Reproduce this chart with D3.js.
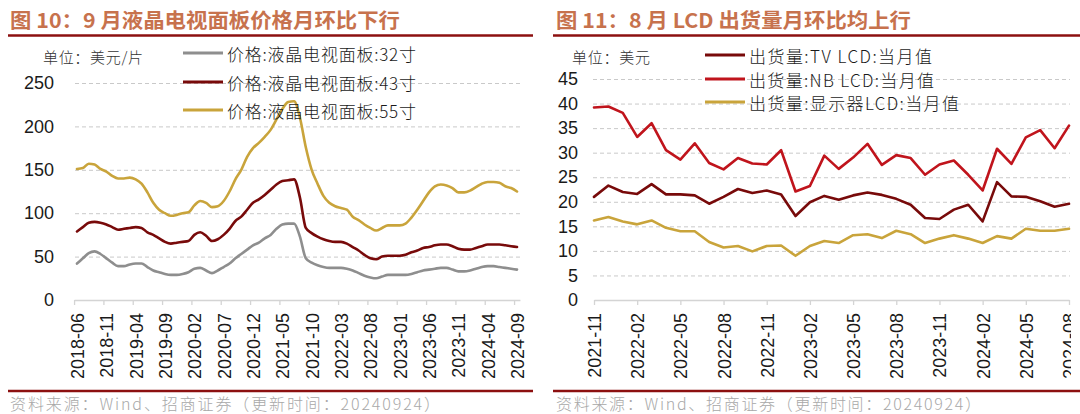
<!DOCTYPE html>
<html><head><meta charset="utf-8">
<script src="https://cdn.jsdelivr.net/npm/d3@7"></script>
<style>
body{margin:0;background:#fff;}
svg{display:block;}
text{font-family:"Liberation Sans",Arial,"Noto Sans CJK SC",sans-serif;}
.cjk{font-family:"Noto Sans CJK SC",sans-serif;}
</style></head><body>
<svg id="c" width="1080" height="414"></svg>
<script>
// ---------- Left chart data (monthly, 2018-06 .. 2024-09) ----------
const leftStart = "2018-06";
const leftTickLabels = ["2018-06","2018-11","2019-04","2019-09","2020-02","2020-07","2020-12","2021-05","2021-10","2022-03","2022-08","2023-01","2023-06","2023-11","2024-04","2024-09"];
const leftYTicks = [0,50,100,150,200,250];
const leftNames = ["价格:液晶电视面板:32寸","价格:液晶电视面板:43寸","价格:液晶电视面板:55寸"];
const price32 = [42,48,54,56,53,48,43,39,39,41,42,42,38,34,32,30,29,29,30,32,36,37,34,31,34,38,42,48,53,58,63,66,71,75,82,87,88,88,73,48,43,40,38,37,37,37,36,34,31,28,26,25,27,29,29,29,29,30,32,34,35,36,37,37,35,33,33,34,36,38,39,39,38,37,36,35];
const price43 = [79,84,89,90,89,87,84,81,82,83,84,83,78,75,71,67,65,66,67,68,75,78,74,68,70,75,82,91,96,104,112,116,121,127,133,137,138,139,118,83,77,73,70,68,67,67,65,61,57,52,48,47,50,51,51,51,52,55,57,60,61,63,64,64,62,59,58,58,60,62,64,64,64,63,62,61];
const price55 = [151,152,157,156,151,148,143,140,140,141,139,134,124,112,104,100,97,98,100,101,109,114,112,107,108,114,125,139,150,165,175,181,188,196,208,220,228,229,210,176,150,134,120,112,108,106,104,96,92,87,83,80,83,86,86,86,88,95,104,114,124,131,133,132,129,124,124,126,130,134,136,136,135,131,129,125];

// ---------- Right chart data (monthly, 2021-11 .. 2024-08) ----------
const rightStart = "2021-11";
const rightTickLabels = ["2021-11","2022-02","2022-05","2022-08","2022-11","2023-02","2023-05","2023-08","2023-11","2024-02","2024-05","2024-08"];
const rightYTicks = [0,5,10,15,20,25,30,35,40,45];
const rightNames = ["出货量:TV LCD:当月值","出货量:NB LCD:当月值","出货量:显示器LCD:当月值"];
const tvLCD = [21.0,23.3,22.0,21.6,23.6,21.5,21.5,21.3,19.6,21.0,22.6,21.8,22.3,21.5,17.1,19.9,21.2,20.4,21.3,21.9,21.4,20.6,19.4,16.7,16.5,18.4,19.4,16.0,24.0,21.1,21.0,20.1,19.0,19.6];
const nbLCD = [39.2,39.4,38.1,33.2,36.0,30.5,28.6,31.9,27.9,26.6,28.9,27.8,27.6,30.5,22.1,23.2,29.4,26.7,29.0,31.8,27.5,29.5,28.9,25.5,27.6,28.4,25.5,22.3,30.8,27.7,33.1,34.6,30.9,35.5];
const monLCD = [16.2,16.9,16.0,15.4,16.2,14.7,14.0,14.0,11.8,10.7,11.0,9.9,11.0,11.1,9.0,11.0,12.0,11.6,13.2,13.4,12.6,14.1,13.4,11.6,12.5,13.2,12.5,11.6,13.0,12.5,14.5,14.1,14.1,14.5];

// ---------- helpers ----------
function monthSeq(start, n){
  const [y,m] = start.split("-").map(Number);
  return d3.range(n).map(i=>{const t=y*12+(m-1)+i; return `${Math.floor(t/12)}-${String(t%12+1).padStart(2,"0")}`;});
}
const COL_GRAY="#8E8E8E", COL_DARK="#780A0A", COL_GOLD="#C9A43B", COL_RED="#C0141C";
const TITLE_COL="#C7724D", RULE_COL="#8C1010";
const svg = d3.select("#c");

function header(x0,x1,title,tx,tlen){
  svg.append("text").attr("class","cjk").attr("x",tx).attr("y",28).attr("font-size",20.5).attr("font-weight","bold")
    .attr("fill",TITLE_COL).attr("textLength",tlen).attr("lengthAdjust","spacingAndGlyphs").text(title);
  svg.append("line").attr("x1",x0).attr("x2",x1).attr("y1",35.5).attr("y2",35.5).attr("stroke",RULE_COL).attr("stroke-width",2.6);
  svg.append("line").attr("x1",x0).attr("x2",x1).attr("y1",391).attr("y2",391).attr("stroke",RULE_COL).attr("stroke-width",2.6);
}

function chart(o){
  const g = svg.append("g");
  // grid + y axis
  const yAx = d3.axisLeft(o.y).tickValues(o.yTicks).tickSize(-(o.gx1-o.gx0)).tickPadding(o.pad);
  const ya = g.append("g").attr("transform",`translate(${o.gx0},0)`).call(yAx);
  ya.select(".domain").remove();
  ya.selectAll(".tick line").attr("stroke","#C9C9C9").attr("stroke-dasharray","4,3").attr("stroke-width",1)
    .filter(d=>d===0).remove();
  ya.selectAll(".tick text").attr("font-size",18).attr("fill","#1a1a1a").attr("font-family","Liberation Sans, Arial, sans-serif");
  // x axis
  const idx = o.tickLabels.map(l=>o.months.indexOf(l));
  const xMarks = d3.axisBottom(o.x).tickValues(idx.map(i=>i+o.tickOff)).tickFormat("").tickSize(5).tickSizeOuter(0);
  const xm = g.append("g").attr("transform","translate(0,300)").call(xMarks);
  xm.select(".domain").attr("stroke","#D4D4D4").attr("stroke-width",1.3);
  xm.selectAll(".tick line").attr("stroke","#D4D4D4").attr("stroke-width",1.3);
  const xLab = d3.axisBottom(o.x).tickValues(idx).tickFormat(i=>o.months[i]).tickSize(0);
  const wrap = g.append("g");
  if(o.clip) wrap.attr("clip-path","url(#"+o.clip+")");
  const xl = wrap.append("g").attr("transform","translate(0,300)").call(xLab);
  xl.select(".domain").remove();
  xl.selectAll(".tick text").attr("font-size",18).attr("fill","#1a1a1a")
    .attr("transform","rotate(-90)").attr("text-anchor","end").attr("x",-13).attr("y",0).attr("dy","0.36em")
    .attr("font-family","Liberation Sans, Arial, sans-serif");
  // lines
  const line = d3.line().x((d,i)=>o.x(i)).y(d=>o.y(d)).curve(o.curve||d3.curveLinear);
  o.series.forEach(s=>{
    g.append("path").datum(s.values).attr("d",line).attr("fill","none").attr("stroke",s.color)
      .attr("stroke-width",2.6).attr("stroke-linejoin","round").attr("stroke-linecap","round");
  });
  // unit
  g.append("text").attr("class","cjk").attr("x",o.unitX).attr("y",56).attr("dominant-baseline","central")
    .attr("font-size",15).attr("fill","#333").attr("font-weight",300).attr("textLength",o.unitLen).attr("lengthAdjust","spacing").text(o.unit);
  // legend
  o.series.forEach((s,k)=>{
    const ly = o.legY[k];
    g.append("line").attr("x1",o.legX).attr("x2",o.legX+40).attr("y1",ly).attr("y2",ly).attr("stroke",s.color).attr("stroke-width",3);
    g.append("text").attr("class","cjk").attr("x",o.legX+44).attr("y",ly).attr("dominant-baseline","central")
      .attr("font-size",17).attr("fill","#1a1a1a").attr("font-weight",300)
      .attr("textLength",o.legLen[k]).attr("lengthAdjust","spacing").text(s.name);
  });
  // source
  svg.append("text").attr("class","cjk").attr("x",o.srcX).attr("y",403).attr("dominant-baseline","central")
    .attr("font-size",16).attr("fill","#A8A8A8").attr("font-weight",300).attr("textLength",o.srcLen).attr("lengthAdjust","spacing")
    .text("资料来源：Wind、招商证券（更新时间：20240924）");
}

// defs for clipping right-most x label (global coordinates)
svg.append("defs").append("clipPath").attr("id","rclip").append("rect").attr("x",540).attr("y",295).attr("width",531).attr("height",95);

// ---------- Left ----------
header(8,533,"图 10：9 月液晶电视面板价格月环比下行",10,390);
const lMonths = monthSeq(leftStart, price55.length);
const lStep = (517-77)/(lMonths.length-1);
chart({
  months:lMonths, tickLabels:leftTickLabels, tickOff:-0.5,
  x:d3.scaleLinear().domain([-0.5,lMonths.length-0.5]).range([77-lStep/2,517+lStep/2]),
  y:d3.scaleLinear().domain([0,250]).range([300,83]),
  yTicks:leftYTicks, gx0:75, gx1:520, pad:21,
  series:[{name:leftNames[0],values:price32,color:COL_GRAY},{name:leftNames[1],values:price43,color:COL_DARK},{name:leftNames[2],values:price55,color:COL_GOLD}],
  curve:d3.curveMonotoneX,
  unit:"单位：美元/片", unitX:43, unitLen:100, legX:183, legY:[53,82,110], legLen:[189,189,189], srcX:10, srcLen:430
});

// ---------- Right ----------
header(553,1080,"图 11：8 月 LCD 出货量月环比均上行",556,355);
const rMonths = monthSeq(rightStart, tvLCD.length);
chart({
  months:rMonths, tickLabels:rightTickLabels, tickOff:0, clip:"rclip",
  x:d3.scaleLinear().domain([0,rMonths.length-1]).range([594,1069]),
  y:d3.scaleLinear().domain([0,45]).range([300,79]),
  yTicks:rightYTicks, gx0:593, gx1:1070, pad:15,
  series:[{name:rightNames[0],values:tvLCD,color:COL_DARK},{name:rightNames[1],values:nbLCD,color:COL_RED},{name:rightNames[2],values:monLCD,color:COL_GOLD}],
  unit:"单位：美元", unitX:572, unitLen:78, legX:705, legY:[55,79,102], legLen:[183,185,210], srcX:556, srcLen:425
});
</script>
</body></html>
